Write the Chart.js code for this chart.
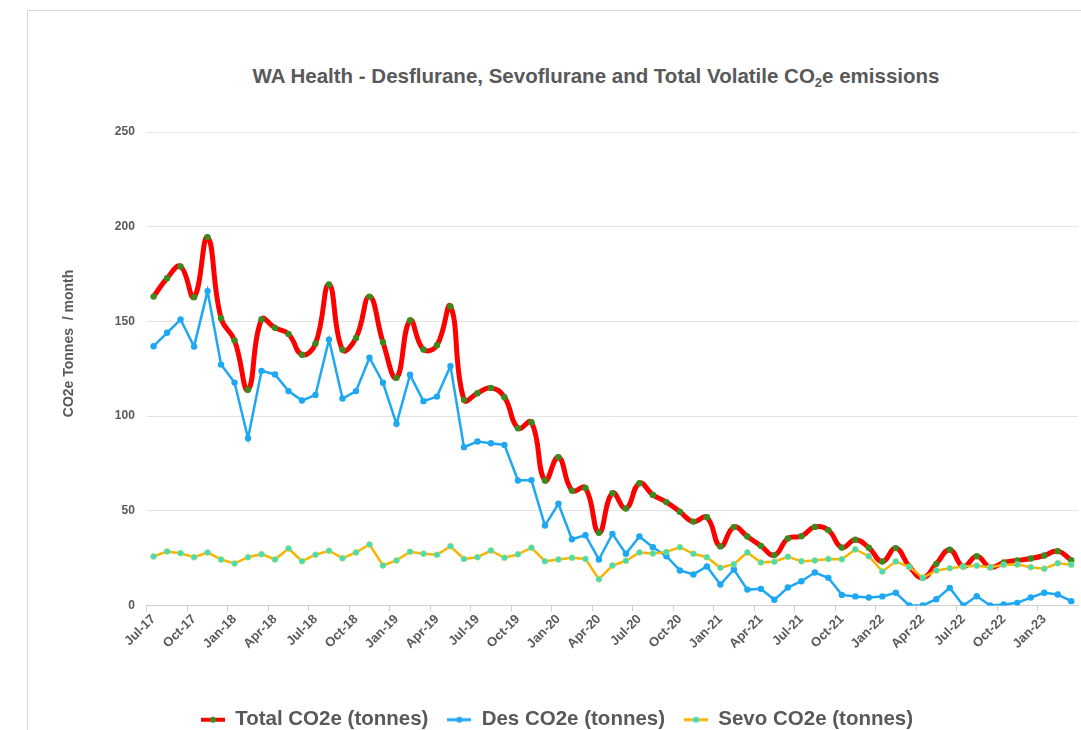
<!DOCTYPE html>
<html>
<head>
<meta charset="utf-8">
<script src="https://cdn.jsdelivr.net/npm/chart.js@4.4.1/dist/chart.umd.min.js"></script>
<style>
  body { margin: 0; background: #fff; overflow: hidden; width: 1081px; height: 730px; position: relative; font-family: "Liberation Sans", Arial, sans-serif; }
  #frame { position: absolute; left: 27px; top: 10px; width: 1200px; height: 900px; border-left: 1px solid #d9d9d9; border-top: 1px solid #d9d9d9; }
  #title { position: absolute; left: 0; width: 1192px; top: 64px; text-align: center; font-weight: bold; font-size: 20.5px; color: #595959; }
  #title sub { font-size: 13px; vertical-align: -4px; line-height: 0; }
  #wrap { position: absolute; left: 27px; top: 10px; }
</style>
</head>
<body>
<div id="frame"></div>
<div id="title">WA Health - Desflurane, Sevoflurane and Total Volatile CO<sub>2</sub>e emissions</div>
<div id="wrap"><canvas id="chart" width="1060" height="730"></canvas></div>
<script>
const months = [
  'Jul-17','Aug-17','Sep-17','Oct-17','Nov-17','Dec-17','Jan-18','Feb-18','Mar-18','Apr-18','May-18','Jun-18',
  'Jul-18','Aug-18','Sep-18','Oct-18','Nov-18','Dec-18','Jan-19','Feb-19','Mar-19','Apr-19','May-19','Jun-19',
  'Jul-19','Aug-19','Sep-19','Oct-19','Nov-19','Dec-19','Jan-20','Feb-20','Mar-20','Apr-20','May-20','Jun-20',
  'Jul-20','Aug-20','Sep-20','Oct-20','Nov-20','Dec-20','Jan-21','Feb-21','Mar-21','Apr-21','May-21','Jun-21',
  'Jul-21','Aug-21','Sep-21','Oct-21','Nov-21','Dec-21','Jan-22','Feb-22','Mar-22','Apr-22','May-22','Jun-22',
  'Jul-22','Aug-22','Sep-22','Oct-22','Nov-22','Dec-22','Jan-23','Feb-23','Mar-23'
];

// quarterly labels shown on the axis
const tickLabels = [
  'Jul-17','Oct-17','Jan-18','Apr-18','Jul-18','Oct-18','Jan-19','Apr-19','Jul-19','Oct-19','Jan-20','Apr-20',
  'Jul-20','Oct-20','Jan-21','Apr-21','Jul-21','Oct-21','Jan-22','Apr-22','Jul-22','Oct-22','Jan-23'
];

const totalCO2e = [
  163.1,172.8,179,162.8,194.5,151.7,140,113.9,151,146.6,
  143.4,132.4,138.3,169.5,135,141.3,163.1,139,120.2,150.5,
  135.2,137.4,157.9,108.6,112.1,114.9,110,93.6,96.8,66,
  78.3,60.7,62.1,38.4,59.3,51.2,64.6,58.4,54.6,49.5,
  44.3,46.6,31.2,41.4,36.4,31.5,26.6,35.4,36.6,41.5,
  39.8,30.6,34.7,30.5,23.2,30.3,20.6,14.6,22,29.4,
  20.6,26,20.2,22.7,23.8,24.8,26.4,28.7,23.9
];

const desCO2e = [
  136.9,144,151,136.7,166,127.2,117.7,88.3,123.9,122,
  113.2,108.2,111.2,140.4,109.3,113.2,130.8,117.6,95.9,121.8,
  107.9,110.3,126.4,83.6,86.6,85.7,84.8,66,66.2,42.2,
  53.7,35,37.1,24.3,37.8,27.3,36.4,30.8,26,18.5,
  16.4,20.6,11.1,19,8.4,8.8,3,9.5,12.8,17.4,
  14.6,5.6,4.8,4.2,4.8,6.7,0,0,3.3,9.3,
  0,4.9,0,0.5,1.4,4.2,6.7,5.8,2.3
];

const sevoCO2e = [
  25.9,28.5,27.6,25.5,28,24.3,22.2,25.5,27.1,24.3,
  30.1,23.4,26.8,28.9,25,28,32.2,21.1,23.8,28.4,
  27.3,26.8,31.3,24.6,25.5,29,25.2,27,30.5,23.4,
  24.3,25.2,24.6,13.9,21.1,23.6,28,27.5,28.2,30.8,
  27.3,25.5,19.9,21.8,28,22.7,23.1,25.7,23.4,23.8,
  24.6,24.4,29.6,26,18,23.2,20.4,14.6,18.5,19.7,
  20.6,21,20.2,21.5,21.6,20.2,19.4,22.3,21.5
];

const seriesNames = ['Total CO2e (tonnes)', 'Des CO2e (tonnes)', 'Sevo CO2e (tonnes)'];

// little line + dot marker for the legend
function legendMark(line, dot, lw) {
  const c = document.createElement('canvas');
  c.width = 24; c.height = 10;
  const g = c.getContext('2d');
  g.strokeStyle = line; g.lineWidth = lw;
  g.beginPath(); g.moveTo(0, 5); g.lineTo(24, 5); g.stroke();
  g.fillStyle = dot;
  g.beginPath(); g.arc(12, 5, 3, 0, Math.PI * 2); g.fill();
  return c;
}
const marks = [
  legendMark('#ff0000', '#3a8a1e', 4),
  legendMark('#1ea7f2', '#1ea7f2', 3),
  legendMark('#f7b500', '#40dcc0', 3)
];

const font = 'Liberation Sans, Arial, sans-serif';
const txt = '#595959';

const ctx = document.getElementById('chart').getContext('2d');
new Chart(ctx, {
  type: 'line',
  data: {
    labels: months,
    datasets: [
      {
        label: seriesNames[0], data: totalCO2e, order: 3,
        borderColor: '#ff0000', borderWidth: 5, tension: 0.45,
        pointRadius: 3.2, pointBackgroundColor: '#3a8a1e', pointBorderColor: '#3a8a1e', pointBorderWidth: 0
      },
      {
        label: seriesNames[1], data: desCO2e, order: 2,
        borderColor: '#1ea7f2', borderWidth: 2.5, tension: 0,
        pointRadius: 3.2, pointBackgroundColor: '#1ea7f2', pointBorderColor: '#1ea7f2', pointBorderWidth: 0
      },
      {
        label: seriesNames[2], data: sevoCO2e, order: 1,
        borderColor: '#f7b500', borderWidth: 2.5, tension: 0,
        pointRadius: 3, pointBackgroundColor: '#40dcc0', pointBorderColor: '#c8d84a', pointBorderWidth: 0.6
      }
    ]
  },
  options: {
    responsive: false,
    animation: false,
    layout: { padding: { left: 9, right: 9, top: 122, bottom: 0 } },
    plugins: {
      title: { display: false },
      tooltip: { enabled: false },
      legend: {
        position: 'bottom',
        labels: {
          usePointStyle: true,
          pointStyleWidth: 24,
          boxHeight: 10,
          padding: 19,
          color: txt,
          font: { family: font, size: 20.5, weight: 'bold' },
          generateLabels: chart => {
            const items = Chart.defaults.plugins.legend.labels.generateLabels(chart);
            items.forEach(it => { it.pointStyle = marks[it.datasetIndex]; });
            return items.sort((a, b) => a.datasetIndex - b.datasetIndex);
          }
        }
      }
    },
    scales: {
      x: {
        offset: true,
        afterFit: axis => { axis.height = 85; },
        grid: {
          offset: true,
          drawOnChartArea: false,
          tickLength: 6,
          color: c => (c.index % 3 === 0 ? '#d0d0d0' : 'rgba(0,0,0,0)')
        },
        border: { display: true, color: '#d0d0d0' },
        ticks: {
          autoSkip: false,
          maxRotation: 45,
          minRotation: 45,
          padding: 0,
          color: txt,
          font: { family: font, size: 13, weight: 'bold' },
          callback: function (v) {
            const l = this.getLabelForValue(v);
            return tickLabels.includes(l) ? l : '';
          }
        }
      },
      y: {
        min: 0,
        max: 250,
        ticks: { stepSize: 50, padding: 12, color: txt, font: { family: font, size: 12, weight: 'bold' } },
        grid: { color: '#e3e3e3', drawTicks: false },
        border: { display: false },
        title: {
          display: true,
          // leading spaces lift the label a little, as in the original
          text: '             CO2e Tonnes  / month',
          color: txt,
          font: { family: font, size: 14, weight: 'bold' },
          padding: { top: 25, bottom: 25 }
        }
      }
    }
  }
});
</script>
</body>
</html>
